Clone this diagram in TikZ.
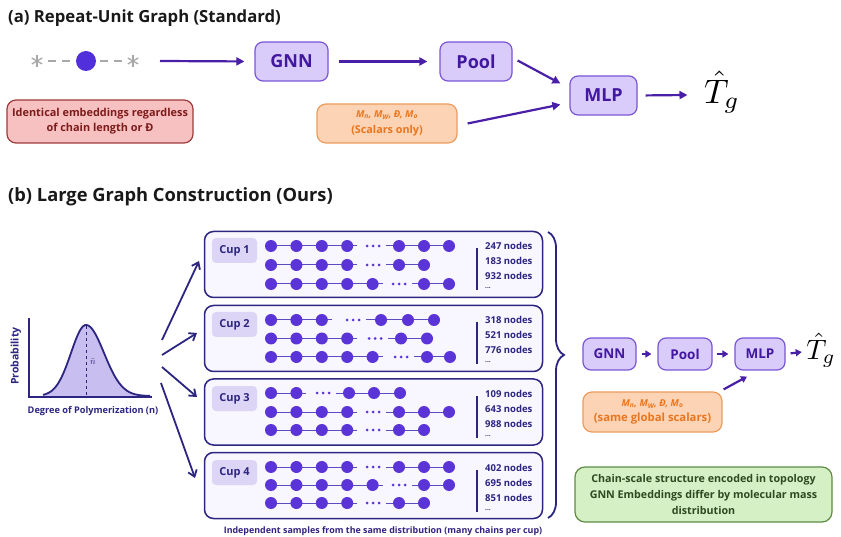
\documentclass[tikz,border=0pt]{standalone}
\usepackage{fontspec}
\setmainfont{Open Sans}
\usetikzlibrary{arrows.meta,decorations.pathreplacing,calc}
\definecolor{ink}{HTML}{4A1FA8}
\definecolor{boxfill}{HTML}{D9CCFA}
\definecolor{boxdraw}{HTML}{7A55D6}
\definecolor{boxtext}{HTML}{4318A0}
\definecolor{navy}{HTML}{2C2680}
\definecolor{chainnode}{HTML}{5A34D6}
\definecolor{chainline}{HTML}{5B4BC0}
\definecolor{cupfill}{HTML}{F8F6FF}
\definecolor{cuplab}{HTML}{DDD5F6}
\definecolor{orfill}{HTML}{FDD3B5}
\definecolor{ordraw}{HTML}{EE9C5C}
\definecolor{ortext}{HTML}{E9761F}
\definecolor{redfill}{HTML}{F7C1C1}
\definecolor{reddraw}{HTML}{9E3B3B}
\definecolor{redtext}{HTML}{7E1B1B}
\definecolor{grfill}{HTML}{D6F0C6}
\definecolor{grdraw}{HTML}{5E8C45}
\definecolor{grtext}{HTML}{2D4A20}
\definecolor{curvefill}{HTML}{C9BEF0}
\definecolor{greyc}{HTML}{A8A8A8}
\newcommand{\polychain}[5]{%
  \pgfmathsetmacro{\lastL}{271+25.4*(#2-1)}
  \draw[chainl] (271,#1) -- ({\lastL+10},#1);
  \draw[chainl] ({#3+13},#1) -- (#5,#1);
  \foreach \i in {1,...,#2} {\fill[chainnode] ({271+25.4*(\i-1)},#1) circle (6pt);}
  \foreach \xx in {#4} {\fill[chainnode] (\xx,#1) circle (6pt);}
  \foreach \dd in {-6,0,6} {\fill[chainnode] ({#3+\dd},#1) circle (1.5pt);}
}
\tikzset{
  pbox/.style={draw=boxdraw, fill=boxfill, line width=1.2pt, rounded corners=8pt, text=boxtext,
    font=\bfseries\fontsize{18}{20}\selectfont, minimum height=39pt, inner sep=0pt},
  pboxs/.style={pbox, font=\bfseries\fontsize{13.5}{15}\selectfont, minimum height=32pt},
  arrA/.style={draw=ink, line width=2.2pt, -{Triangle[length=8pt,width=8pt]}},
  arrB/.style={draw=navy, line width=1.8pt, -{Straight Barb[length=6pt,width=9pt,line width=1.8pt]}},
  arrC/.style={draw=ink, line width=2.2pt, -{Triangle[length=6pt,width=7pt]}},
  chainl/.style={draw=chainline, line width=1pt},
  cupbox/.style={draw=navy, fill=cupfill, line width=1.5pt, rounded corners=9pt, minimum width=338pt, minimum height=66pt, inner sep=0pt},
  cuplabel/.style={fill=cuplab, rounded corners=4pt, minimum width=45pt, minimum height=25pt, inner sep=0pt,
    text=navy, font=\bfseries\fontsize{11}{12}\selectfont},
  cnt/.style={anchor=west, inner sep=0pt, text=navy, font=\bfseries\fontsize{9.5}{11}\selectfont},
  title/.style={anchor=west, inner sep=0pt, text=black!90, font=\bfseries\fontsize{16.7}{19}\selectfont},
  orbox/.style={draw=ordraw, fill=orfill, line width=1.2pt, rounded corners=9pt, text=ortext, align=center, inner sep=0pt},
}
\begin{document}
\begin{tikzpicture}[x=1pt,y=-1pt]
\useasboundingbox (0,0) rectangle (841,537);
\fill[white] (0,0) rectangle (841,537);

% ---------- (a) ----------
\node[title] (ta) at (8,18) {(a) Repeat-Unit Graph (Standard)};

% repeat unit
\foreach \cx/\nm in {37/s1,133/s2} {
  \coordinate (\nm) at (\cx,61);
  \foreach \ang in {90,30,150} {\draw[greyc, line width=1.3pt] ($(\nm)+(\ang:6)$) -- ($(\nm)+(\ang+180:6)$);}
}
\node[circle, fill=chainnode!90!blue, minimum size=20pt, inner sep=0pt] (ru) at (86,61) {};
\draw[greyc, line width=1.8pt, dash pattern=on 8pt off 6pt] (48,61) -- (70,61);
\draw[greyc, line width=1.8pt, dash pattern=on 8pt off 6pt] (100,61) -- (122,61);
\coordinate (a1s) at (160,61);

\node[pbox, minimum width=73pt] (gnnA) at (291.5,61.5) {GNN};
\node[pbox, minimum width=72pt] (poolA) at (476,61.5) {Pool};
\node[pbox, minimum width=67pt] (mlpA) at (603.5,95.5) {MLP};
\node[scale=3.4, inner sep=0pt] (TA) at (722,92) {$\hat{T}_g$};

\node[orbox, minimum width=140pt, minimum height=39pt] (orA) at (387,123.5)
  {{\fontsize{9.5}{11}\selectfont\bfseries\itshape M\textsubscript{n}, M\textsubscript{W}, Đ, M\textsubscript{o}}\\[4pt]
   {\fontsize{10.8}{12}\selectfont\bfseries (Scalars only)}};

\node[draw=reddraw, fill=redfill, line width=1.2pt, rounded corners=9pt, minimum width=186pt, minimum height=43pt,
  text=redtext, align=center, inner sep=0pt, font=\bfseries\fontsize{10.9}{15}\selectfont] (redA) at (100,121.5)
  {Identical embeddings regardless\\of chain length or Đ};

\draw[arrA, shorten >=10pt] (a1s) -- (gnnA.west);
\draw[arrA, shorten <=10pt, shorten >=12pt] (gnnA.east) -- (poolA.west);
\draw[arrA] ([xshift=5pt,yshift=1pt]poolA.east) -- ([xshift=-9pt,yshift=12pt]mlpA.west);
\draw[arrA] ([xshift=10pt]orA.east) -- ([xshift=-9pt,yshift=-9pt]mlpA.west);
\draw[arrA, shorten <=8pt] (mlpA.east) -- ([xshift=-16pt,yshift=-3pt]TA.west);

% ---------- (b) ----------
\node[title, font=\bfseries\fontsize{18.3}{20}\selectfont] (tb) at (8,197) {(b) Large Graph Construction (Ours)};

% distribution plot
\fill[curvefill] (43,396) -- plot[domain=43:86, samples=40] (\x, {396-71*exp(-((\x-86)^2)/450)})
  -- plot[domain=86:150, samples=50] (\x, {396-71*exp(-((\x-86)^2)/648)}) -- (150,396) -- cycle;
\draw[navy, line width=1.8pt] plot[domain=43:86, samples=40] (\x, {396-71*exp(-((\x-86)^2)/450)})
  -- plot[domain=86:150, samples=50] (\x, {396-71*exp(-((\x-86)^2)/648)});
\draw[navy, dashed, line width=0.9pt] (86,326) -- (86,396);
\draw[navy, line width=1.8pt] (29,318) -- (29,397) -- (152,397);
\node[text=navy, inner sep=0pt, font=\fontsize{9}{10}\selectfont] (nbar) at (93,362) {$\bar{n}$};
\node[rotate=90, text=navy, inner sep=0pt, font=\bfseries\fontsize{10.5}{12}\selectfont] (prob) at (16,356) {Probability};
\node[text=navy, inner sep=0pt, font=\bfseries\fontsize{9.2}{10}\selectfont] (deg) at (93,411) {Degree of Polymerization (n)};

% cups
\node[cupbox] (cup1) at (373.5,264.5) {};
\node[cupbox] (cup2) at (373.5,338.5) {};
\node[cupbox] (cup3) at (373.5,412) {};
\node[cupbox] (cup4) at (373.5,485.5) {};

\foreach \k/\t in {1/231,2/305,3/379,4/453} {
  \node[cuplabel] (cl\k) at (234.5,\t+19.5) {Cup \k};
  \draw[navy, line width=1.3pt] (477,\t+17) -- (477,\t+59);
}

% cup 1
\polychain{246}{4}{373}{399,424,449}{449}
\polychain{265}{4}{373}{399,424}{424}
\polychain{284}{5}{399}{424,449}{449}
% cup 2
\polychain{320}{3}{353}{381,408,434}{434}
\polychain{338.5}{4}{375}{401,427}{427}
\polychain{357}{5}{401}{427,450}{450}
% cup 3
\polychain{393}{2}{323}{349,374,400}{400}
\polychain{412}{4}{373}{399,424,449}{449}
\polychain{430}{4}{373}{399,424}{424}
% cup 4
\polychain{467}{4}{373}{399,424,449}{449}
\polychain{485}{5}{399}{424,449}{449}
\polychain{503}{4}{373}{399,424}{424}

% counts
\foreach \k/\t/\a/\b/\c in {1/231/247/183/932, 2/305/318/521/776, 3/379/109/643/988, 4/453/402/695/851} {
  \node[cnt] (c\k a) at (485,\t+15) {\a\ nodes};
  \node[cnt] (c\k b) at (485,\t+30) {\b\ nodes};
  \node[cnt] (c\k c) at (485,\t+45) {\c\ nodes};
  \node[cnt, font=\bfseries\fontsize{6.5}{7}\selectfont] (c\k d) at (485,\t+57) {...};
}

\node[text=navy!90!violet, inner sep=0pt, font=\bfseries\fontsize{8.9}{10}\selectfont] (caption) at (383,531)
  {Independent samples from the same distribution (many chains per cup)};

% arrows from distribution
\coordinate (p1) at (162,340); \coordinate (e1) at (199,261);
\coordinate (p2) at (162,355); \coordinate (e2) at (197,333);
\coordinate (p3) at (162,367); \coordinate (e3) at (197,397);
\coordinate (p4) at (161,383); \coordinate (e4) at (195,478);
\draw[arrB] (p1) -- (e1);
\draw[arrB] (p2) -- (e2);
\draw[arrB] (p3) -- (e3);
\draw[arrB] (p4) -- (e4);

% brace
\draw[navy, line width=1.8pt, decorate, decoration={brace, amplitude=16pt, aspect=0.43}] (548,232) -- (548,518);

% right pipeline
\node[pboxs, minimum width=53pt] (gnnB) at (609.5,354) {GNN};
\node[pboxs, minimum width=54pt] (poolB) at (685,354) {Pool};
\node[pboxs, minimum width=50pt] (mlpB) at (760,354) {MLP};
\node[scale=2.8, inner sep=0pt] (TB) at (821,350) {$\hat{T}_g$};
\draw[arrC, shorten <=5pt, shorten >=6pt] (gnnB.east) -- (poolB.west);
\draw[arrC, shorten <=4pt, shorten >=6pt] (poolB.east) -- (mlpB.west);
\draw[arrC, shorten <=5pt] (mlpB.east) -- ([xshift=-4pt,yshift=-2pt]TB.west);

\node[orbox, minimum width=139pt, minimum height=40pt] (orB) at (652.5,412)
  {{\fontsize{9.5}{11}\selectfont\bfseries\itshape M\textsubscript{n}, M\textsubscript{W}, Đ, M\textsubscript{o}}\\[3pt]
   {\fontsize{11.3}{12}\selectfont\bfseries (same global scalars)}};
\draw[arrC] ([xshift=1pt,yshift=2pt]orB.north east) -- ([xshift=-13pt,yshift=-6pt]mlpB.south);

\node[draw=grdraw, fill=grfill, line width=1.2pt, rounded corners=10pt, minimum width=257pt, minimum height=55pt,
  text=grtext, align=center, inner sep=0pt, font=\bfseries\fontsize{10.7}{16}\selectfont] (grB) at (703.5,494.5)
  {Chain-scale structure encoded in topology\\GNN Embeddings differ by molecular mass\\distribution};

\end{tikzpicture}
\end{document}
